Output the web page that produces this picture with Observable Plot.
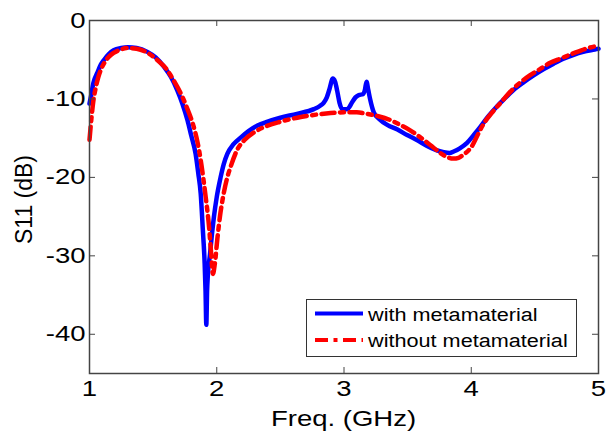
<!DOCTYPE html>
<html>
<head>
<meta charset="utf-8">
<script src="https://cdn.jsdelivr.net/npm/d3@7"></script>
<script src="https://cdn.jsdelivr.net/npm/@observablehq/plot@0.6"></script>
<style>
  html, body { margin: 0; padding: 0; background: #fff; }
  #chart { width: 610px; height: 431px; }
</style>
</head>
<body>
<div id="chart"></div>
<script>
// ---- data ----
const freqWith = [1.0, 1.012, 1.03, 1.063, 1.09, 1.115, 1.15, 1.19, 1.25, 1.30, 1.37, 1.455, 1.52, 1.586, 1.64, 1.69, 1.73, 1.77, 1.80, 1.834, 1.855, 1.874, 1.89, 1.905, 1.912, 1.918, 1.924, 1.93, 1.947, 1.962, 1.978, 2.0, 2.03, 2.055, 2.083, 2.13, 2.19, 2.25, 2.32, 2.4, 2.5, 2.63, 2.763, 2.81, 2.84, 2.865, 2.885, 2.912, 2.93, 2.947, 2.965, 2.986, 3.025, 3.065, 3.09, 3.116, 3.15, 3.165, 3.177, 3.19, 3.205, 3.234, 3.28, 3.34, 3.42, 3.496, 3.58, 3.653, 3.72, 3.784, 3.83, 3.862, 3.91, 3.967, 4.02, 4.07, 4.13, 4.2, 4.26, 4.33, 4.41, 4.49, 4.57, 4.647, 4.72, 4.80, 4.88, 4.97, 5.0];
const s11With = [-10.6, -9.6, -8.0, -6.6, -5.6, -5.0, -4.3, -3.8, -3.5, -3.4, -3.5, -4.0, -4.7, -5.9, -7.2, -8.9, -10.6, -12.7, -14.7, -17.0, -19.5, -22.1, -26.5, -31.0, -34.5, -38.8, -34.5, -32.5, -29.8, -27.3, -25.0, -22.5, -20.0, -18.3, -17.0, -15.8, -14.9, -14.1, -13.4, -12.9, -12.4, -11.9, -11.3, -10.9, -10.5, -9.8, -8.8, -7.4, -7.8, -9.0, -10.5, -11.3, -11.3, -10.4, -9.8, -9.5, -9.4, -8.8, -7.8, -8.8, -10.0, -11.7, -12.6, -13.3, -13.9, -14.6, -15.3, -16.0, -16.5, -16.8, -16.9, -16.7, -16.3, -15.6, -14.6, -13.6, -12.3, -11.0, -10.0, -8.9, -7.9, -7.0, -6.2, -5.5, -4.9, -4.4, -4.0, -3.7, -3.6];

const freqWithout = [1.0, 1.015, 1.03, 1.05, 1.07, 1.089, 1.12, 1.167, 1.23, 1.30, 1.37, 1.455, 1.53, 1.61, 1.66, 1.717, 1.77, 1.82, 1.85, 1.874, 1.895, 1.913, 1.94, 1.955, 1.97, 1.985, 2.005, 2.025, 2.044, 2.083, 2.11, 2.16, 2.22, 2.29, 2.4, 2.5, 2.66, 2.78, 2.894, 3.025, 3.1, 3.18, 3.27, 3.365, 3.44, 3.52, 3.6, 3.68, 3.75, 3.81, 3.86, 3.9, 3.93, 3.97, 4.006, 4.05, 4.10, 4.16, 4.23, 4.33, 4.46, 4.54, 4.62, 4.71, 4.80, 4.9, 5.0];
const s11Without = [-15.2, -12.5, -10.3, -8.5, -7.2, -6.3, -5.3, -4.4, -3.8, -3.5, -3.6, -4.1, -5.0, -6.3, -7.6, -9.3, -11.3, -13.6, -15.6, -17.8, -20.2, -22.5, -26.4, -29.5, -32.3, -31.0, -27.8, -25.0, -23.0, -20.0, -18.6, -16.5, -15.2, -14.3, -13.4, -12.9, -12.3, -12.0, -11.8, -11.7, -11.7, -11.9, -12.2, -12.7, -13.3, -14.0, -14.9, -15.9, -16.8, -17.4, -17.6, -17.5, -17.2, -16.7, -16.0, -14.6, -13.1, -11.8, -10.5, -8.7, -7.0, -6.2, -5.4, -4.8, -4.2, -3.6, -3.2];

const xTicks = [1, 2, 3, 4, 5];
const yTicks = [0, -10, -20, -30, -40];
const seriesNames = ["with metamaterial", "without metamaterial"];
const xLabel = "Freq. (GHz)";
const yLabel = "S11 (dB)";

// ---- layout ----
const W = 610, H = 431;
const mL = 89, mR = 12, mT = 20, mB = 58;
const innerW = W - mL - mR, innerH = H - mT - mB;
const tickLen = 6;
const axisColor = "#444";
const FONT = "'Liberation Sans', Arial, sans-serif";

const withData = freqWith.map((f, i) => ({f, s: s11With[i]}));
const withoutData = freqWithout.map((f, i) => ({f, s: s11Without[i]}));

const chart = Plot.plot({
  width: W, height: H,
  marginLeft: mL, marginRight: mR, marginTop: mT, marginBottom: mB,
  style: {fontFamily: FONT, fontSize: "22px", color: "#000", background: "#fff"},
  x: {domain: [1, 5]},
  y: {domain: [-45, 0]},
  marks: [
    Plot.line(withData, {x: "f", y: "s", stroke: "#0000ff", strokeWidth: 4.5, curve: "monotone-x"}),
    Plot.line(withoutData, {x: "f", y: "s", stroke: "#ff0000", strokeWidth: 4.5, strokeDasharray: "13,5.5,4,5.5", curve: "monotone-x"}),
    Plot.frame({stroke: axisColor, strokeWidth: 1.5}),
    Plot.tickX(xTicks, {x: d => d, stroke: axisColor, strokeWidth: 1, insetTop: innerH - tickLen}),
    Plot.tickX(xTicks, {x: d => d, stroke: axisColor, strokeWidth: 1, insetBottom: innerH - tickLen}),
    Plot.tickY(yTicks, {y: d => d, stroke: axisColor, strokeWidth: 1, insetRight: innerW - tickLen}),
    Plot.tickY(yTicks, {y: d => d, stroke: axisColor, strokeWidth: 1, insetLeft: innerW - tickLen}),
    Plot.axisX({ticks: xTicks, tickSize: 0, tickPadding: 7, fontSize: 22, label: null, tickFormat: d => String(d)}),
    Plot.axisY({ticks: yTicks, tickSize: 0, tickPadding: 4, fontSize: 22, label: null, tickFormat: d => String(d)})
  ]
});

document.getElementById("chart").appendChild(chart);

const svg = d3.select(chart);
// horizontal stretch of the text as in the reference
svg.selectAll("text").each(function () {
  const t = this.getAttribute("transform") || "";
  this.setAttribute("transform", t + " scale(1.25,1)");
});

// ---- axis titles ----
const xs = chart.scale("x"), ys = chart.scale("y");
const cx = (xs.apply(1) + xs.apply(5)) / 2;
const cy = (ys.apply(0) + ys.apply(-45)) / 2;
svg.append("text")
  .attr("transform", `translate(${cx},${H - 5}) scale(1.25,1)`)
  .attr("text-anchor", "middle").attr("font-family", FONT).attr("font-size", 22).attr("fill", "#000")
  .text(xLabel);
svg.append("text")
  .attr("transform", `translate(32,${cy + 3}) rotate(-90)`)
  .attr("text-anchor", "middle").attr("font-family", FONT).attr("font-size", 23).attr("fill", "#000")
  .text(yLabel);

// ---- legend ----
const lg = svg.append("g").attr("font-family", FONT).attr("font-size", 19).attr("text-anchor", "start");
lg.append("rect").attr("x", 306.5).attr("y", 299.5).attr("width", 270).attr("height", 57)
  .attr("fill", "#fff").attr("stroke", "#333").attr("stroke-width", 1);
const rows = [
  {name: seriesNames[0], color: "#0000ff", dash: null, y: 313.5},
  {name: seriesNames[1], color: "#ff0000", dash: "13,5.5,4,5.5", y: 340}
];
rows.forEach(r => {
  const ln = lg.append("line").attr("x1", 315).attr("x2", 363).attr("y1", r.y).attr("y2", r.y)
    .attr("stroke", r.color).attr("stroke-width", 4);
  if (r.dash) ln.attr("stroke-dasharray", r.dash);
  lg.append("text").attr("transform", `translate(368,${r.y + 7}) scale(1.14,1)`)
    .attr("text-anchor", "start").attr("fill", "#000").text(r.name);
});
</script>
</body>
</html>
